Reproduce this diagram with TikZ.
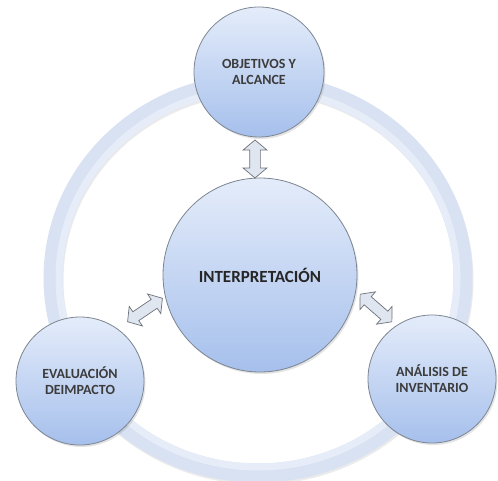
\documentclass[tikz,border=0pt]{standalone}
\usepackage{fontspec}
\setmainfont{Carlito}
\usetikzlibrary{shapes.arrows,shadows}
\definecolor{ringc}{HTML}{D8E2F3}
\definecolor{ringl}{HTML}{E6EDF8}
\definecolor{circtop}{HTML}{E4ECFA}
\definecolor{circbot}{HTML}{A6C0EC}
\definecolor{circline}{HTML}{7C8591}
\definecolor{arrfill}{HTML}{DFE6EF}
\definecolor{arrline}{HTML}{6E727A}
\definecolor{txt}{HTML}{3C3C3C}
\definecolor{txtc}{HTML}{262626}
\tikzset{
  bubble/.style={circle, draw=circline, line width=0.8pt, top color=circtop, bottom color=circbot,
    inner sep=0pt, align=center, text=txt, font=\fontsize{14}{16}\selectfont\bfseries,
    drop shadow={opacity=0.22, shadow xshift=1.5pt, shadow yshift=-2pt}},
  dblarr/.style={double arrow, draw=arrline, fill=arrfill, line width=0.7pt,
    inner xsep=0pt, inner ysep=5pt, text width=0pt,
    double arrow head extend=6.5pt, double arrow tip angle=100}
}
\begin{document}
\begin{tikzpicture}[x=1pt,y=-1pt]
\useasboundingbox (0,0) rectangle (498,481);
% ring
\draw[line width=19pt, color=black!8] (259,280) ellipse [x radius=205, y radius=195];
\draw[line width=19pt, color=ringc] (258,278) ellipse [x radius=205, y radius=195];
\draw[line width=7pt, color=ringl] (258,278) ellipse [x radius=199, y radius=189];
% circles
\node[bubble, minimum size=130pt] (obj) at (259,72) {OBJETIVOS Y\\ALCANCE};
\node[bubble, minimum size=128pt] (eva) at (80,381) {EVALUACIÓN\\DEIMPACTO};
\node[bubble, minimum size=128pt] (ana) at (432,379) {ANÁLISIS DE\\INVENTARIO};
\node[bubble, minimum size=194pt, text=txtc, font=\fontsize{17}{20}\selectfont\bfseries] (int) at (260,275) {INTERPRETACIÓN};
% arrows
\node[dblarr, minimum height=38pt, rotate=90] (a1) at (255,159) {};
\node[dblarr, minimum height=42pt, rotate=34] (a2) at (145,310) {};
\node[dblarr, minimum height=42pt, rotate=-41] (a3) at (376,308) {};
\end{tikzpicture}
\end{document}
